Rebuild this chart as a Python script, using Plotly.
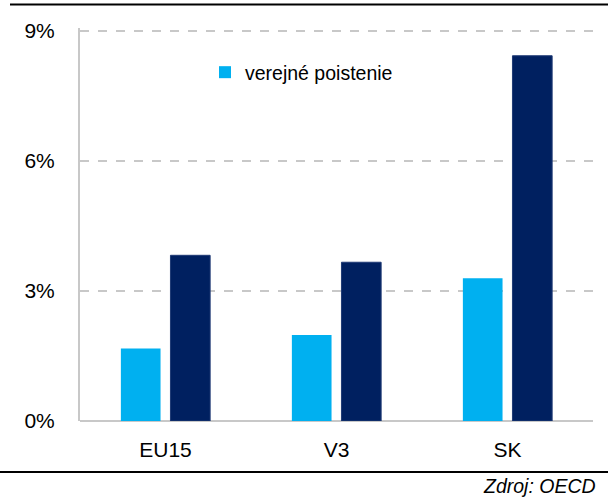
import plotly.graph_objects as go

categories = ["EU15", "V3", "SK"]
verejne = [1.67, 1.98, 3.29]
druha = [3.82, 3.66, 8.42]
tick_vals = [0, 3, 6, 9]
tick_text = ["0%", "3%", "6%", "9%"]

W, H = 608, 497
L, R, T, B = 80, 15, 28, 76
pw = W - L - R
ph = H - T - B

FONT = "Liberation Sans, Arial, sans-serif"

fig = go.Figure()
fig.add_trace(go.Bar(x=categories, y=verejne, name="verejné poistenie",
                     marker=dict(color="#00B0F0", line=dict(width=0))))
fig.add_trace(go.Bar(x=categories, y=druha, name="", showlegend=False,
                     marker=dict(color="#002060", line=dict(width=1, color="#1F3A75"))))

def px(x):
    return (x - L) / pw

def py(y):
    return (H - B - y) / ph

shapes = [
    dict(type="line", xref="paper", yref="paper", x0=px(10), x1=px(608), y0=py(4.5), y1=py(4.5),
         line=dict(color="black", width=2), layer="above"),
    dict(type="line", xref="paper", yref="paper", x0=px(0), x1=px(608), y0=py(472), y1=py(472),
         line=dict(color="black", width=2), layer="above"),
]

fig.update_layout(
    width=W, height=H,
    margin=dict(l=L, r=R, t=T, b=B, pad=0),
    paper_bgcolor="white", plot_bgcolor="white",
    font=dict(family=FONT, size=21, color="black"),
    barmode="group", bargap=0.42, bargroupgap=0.2,
    showlegend=True,
    legend=dict(x=px(205), y=py(53), xanchor="left", yanchor="top",
                bgcolor="rgba(0,0,0,0)", font=dict(size=19.5, family=FONT),
                itemwidth=30),
    xaxis=dict(showgrid=False, showline=False, ticks="", tickfont=dict(size=21),
               ticklabelstandoff=14),
    yaxis=dict(range=[0, 9.06], tickvals=tick_vals, ticktext=tick_text,
               showgrid=True, gridcolor="#C8C8C8", griddash="dash", gridwidth=1.5,
               showline=True, linecolor="#C8C8C8", linewidth=2,
               zeroline=True, zerolinecolor="#C8C8C8", zerolinewidth=2,
               ticks="", ticklabelstandoff=19, tickfont=dict(size=21)),
    shapes=shapes,
    annotations=[dict(text="<i>Zdroj: OECD</i>", xref="paper", yref="paper",
                      x=px(598), y=py(486), xanchor="right", yanchor="middle",
                      showarrow=False, font=dict(size=19.5, family=FONT))],
)

fig.write_html("out.html", config={"displayModeBar": False},
               post_script="document.body.style.margin='0px';")
